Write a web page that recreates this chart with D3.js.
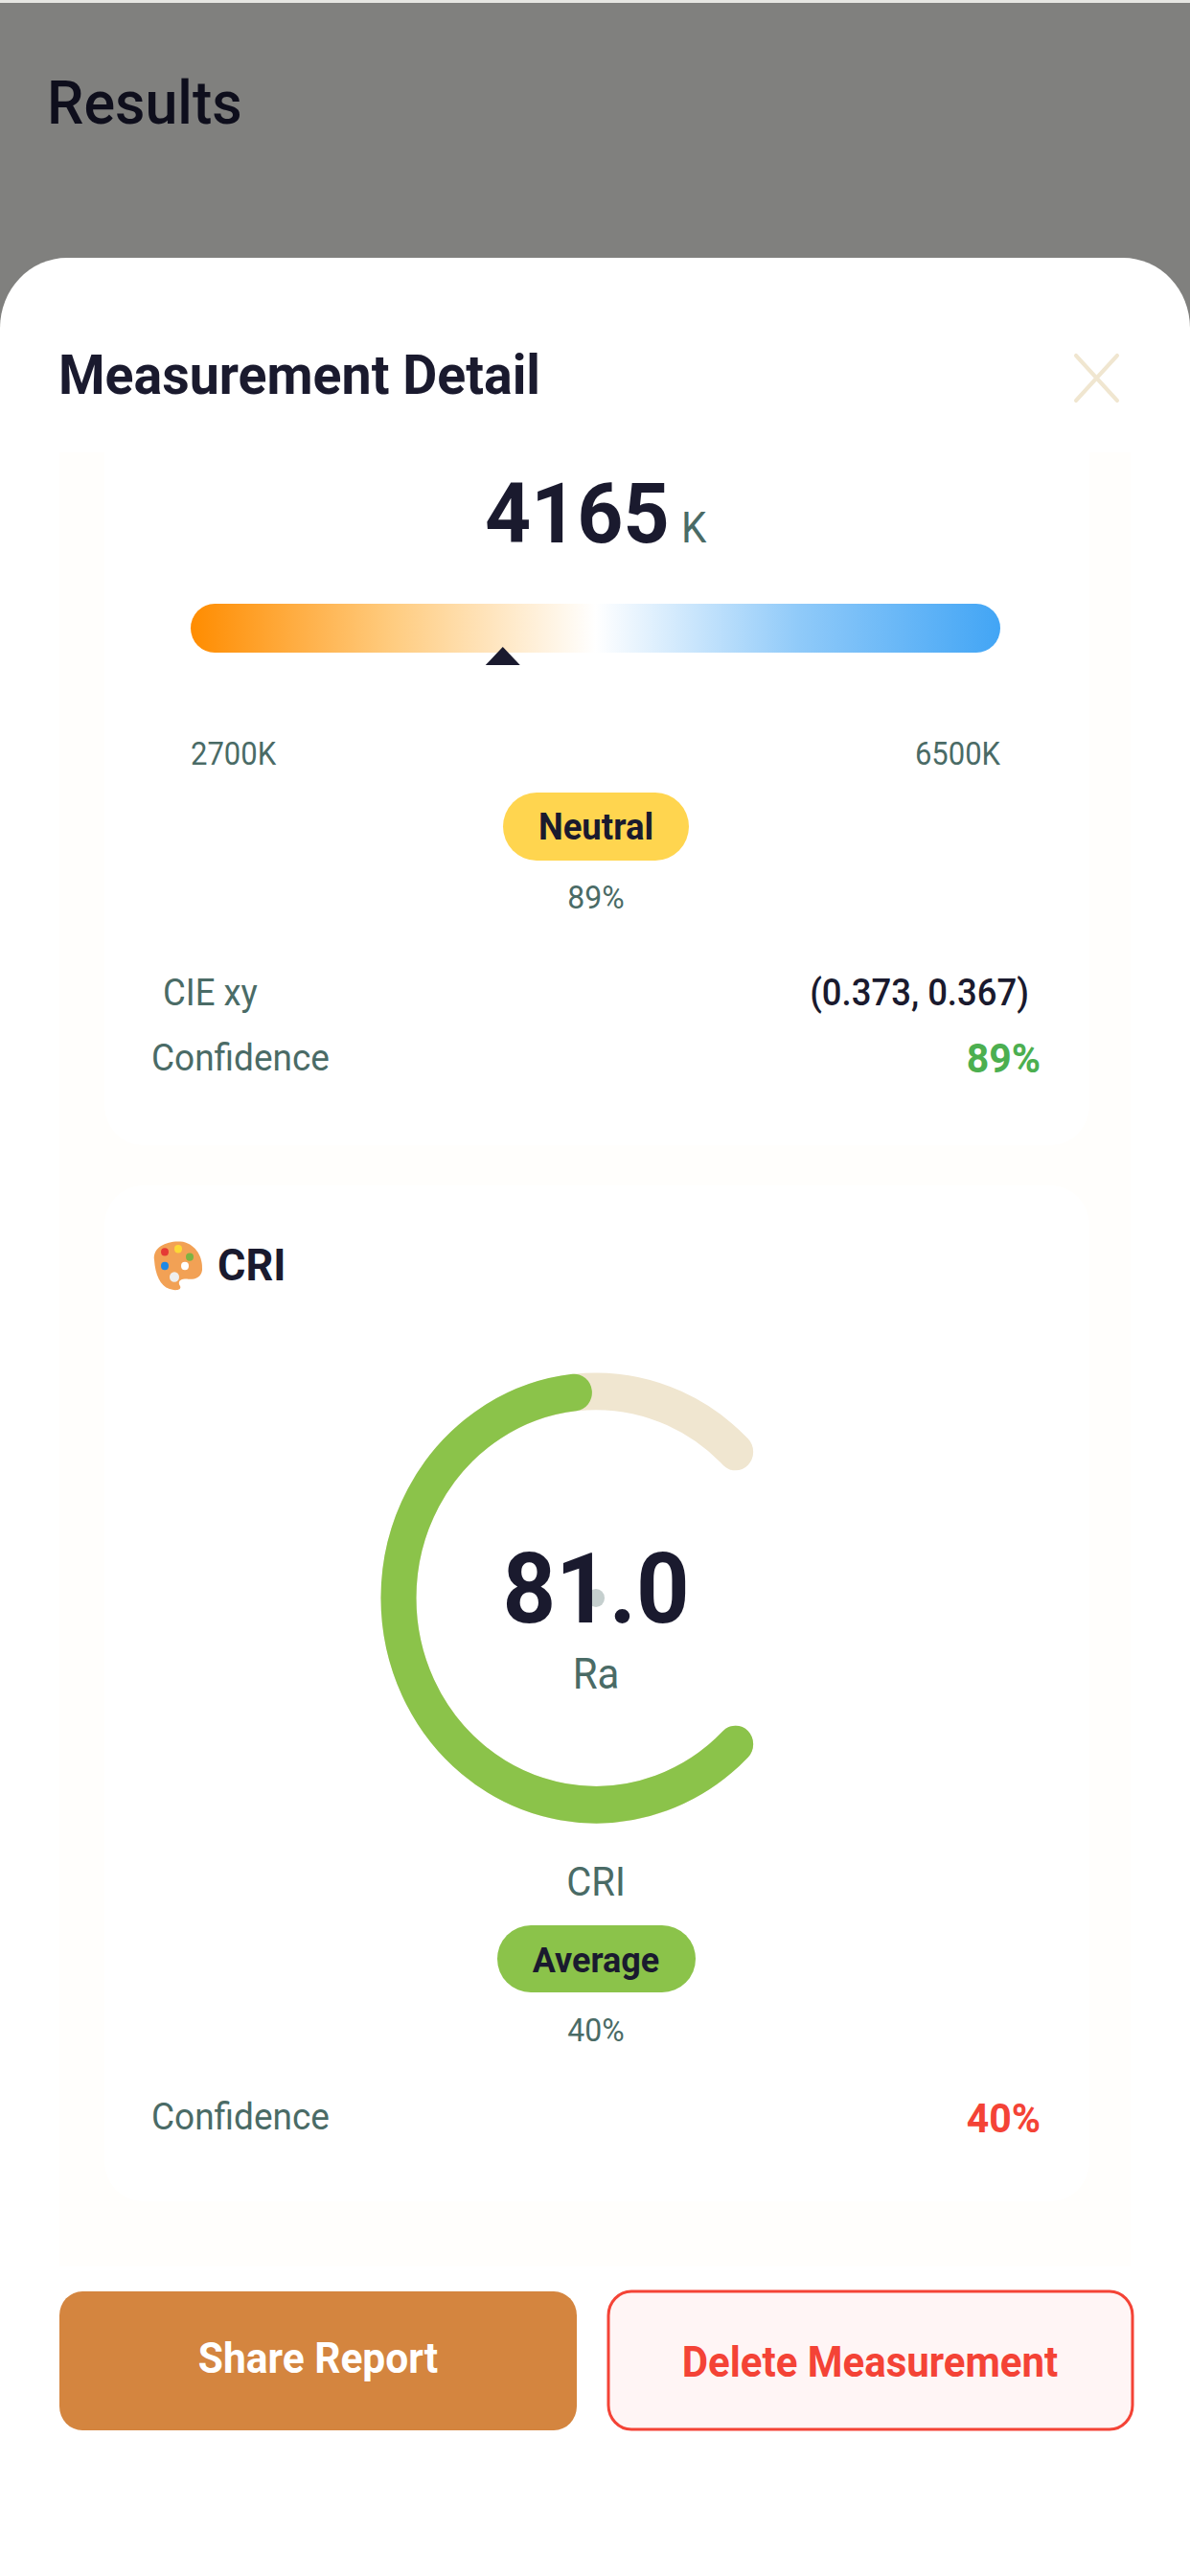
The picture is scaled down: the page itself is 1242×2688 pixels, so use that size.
<!DOCTYPE html>
<html>
<head>
<meta charset="utf-8">
<script src="https://cdn.jsdelivr.net/npm/d3@7"></script>
<style>
  html, body { margin: 0; padding: 0; background: #fff; }
  svg { display: block; }
  text { font-family: Roboto, sans-serif; }
</style>
</head>
<body>
<script>
var CCT_VALUE = 4165;
var CCT_RANGE = [2700, 6500];
var CCT_UNIT = 'K';
var CCT_LABEL = 'Neutral';
var CCT_CONFIDENCE = 89;
var CIE_XY = [0.373, 0.367];
var CRI_VALUE = 81.0;
var CRI_RANGE = [0, 100];
var CRI_LABEL = 'Average';
var CRI_CONFIDENCE = 40;
var GRADIENT_STOPS = ['#ff8c00', '#ffcc80', '#ffffff', '#90caf9', '#42a5f5'];

var W = 1242, H = 2688;
// the source screenshot is stretched a little vertically
var SY = 1.047;
var DARK = '#1a1a2e', MUTED = '#4a6b66', CREAM = '#f0e6d0', GREEN = '#8bc34a', RED = '#f44336';

var y = d3.scaleLinear().domain([0, H]).range([0, H / SY]);

var svg = d3.select('body').append('svg')
    .attr('width', W)
    .attr('height', H);

// backdrop, outside the stretch
svg.append('rect').attr('width', W).attr('height', H).attr('fill', '#80807e');
svg.append('rect').attr('width', W).attr('height', 3).attr('fill', '#e6e6e2');

var root = svg.append('g').attr('transform', 'scale(1,' + SY + ')');

function label(str, x, yy, size, opts) {
  opts = opts || {};
  return root.append('text')
      .attr('x', x)
      .attr('y', y(yy))
      .attr('font-size', size)
      .attr('font-weight', opts.weight || 400)
      .attr('fill', opts.fill || MUTED)
      .attr('text-anchor', opts.anchor || 'start')
      .text(str);
}

function box(x0, x1, y0, y1, r, fill) {
  return root.append('rect')
      .attr('x', x0)
      .attr('y', y(y0))
      .attr('width', x1 - x0)
      .attr('height', y(y1) - y(y0))
      .attr('rx', r)
      .attr('fill', fill);
}

label('Results', 49, 129, 61, { weight: 500, fill: '#0e0e1c' });

// sheet and cards
box(0, W, 269, H + 200, 70, '#ffffff');
box(62, 1180, 472, 2365, 0, '#fffefc');
box(109, 1137, 420, 1195, 40, '#ffffff');
box(109, 1137, 1237, 2297, 40, '#ffffff');

label('Measurement Detail', 61, 411, 55.5, { weight: 700, fill: DARK });

// close icon
[[1123, 371, 1166, 418], [1166, 371, 1123, 418]].forEach(function(l) {
  root.append('line')
      .attr('x1', l[0]).attr('y1', y(l[1]))
      .attr('x2', l[2]).attr('y2', y(l[3]))
      .attr('stroke', CREAM)
      .attr('stroke-width', 4)
      .attr('stroke-linecap', 'round');
});

// colour temperature
label(CCT_VALUE, 506, 566, 84, { weight: 700, fill: DARK });
label(CCT_UNIT, 711, 566, 42);

var cctX = d3.scaleLinear().domain(CCT_RANGE).range([199, 1044]);

var grad = svg.append('defs').append('linearGradient')
    .attr('id', 'cct-grad');
grad.selectAll('stop')
    .data(GRADIENT_STOPS)
    .enter()
    .append('stop')
    .attr('offset', function(d, i) { return i / (GRADIENT_STOPS.length - 1); })
    .attr('stop-color', function(d) { return d; });

box(cctX(CCT_RANGE[0]), cctX(CCT_RANGE[1]), 630, 681, 25, 'url(#cct-grad)');

root.append('path')
    .attr('d', d3.line()([
      [cctX(CCT_VALUE) - 18, y(694)],
      [cctX(CCT_VALUE), y(675)],
      [cctX(CCT_VALUE) + 18, y(694)]
    ]) + 'Z')
    .attr('fill', DARK);

label(CCT_RANGE[0] + 'K', cctX(CCT_RANGE[0]), 798, 31);
label(CCT_RANGE[1] + 'K', cctX(CCT_RANGE[1]), 798, 31, { anchor: 'end' });

box(525, 719, 827, 898, 35, '#ffd54f');
label(CCT_LABEL, 622, 876, 36.5, { weight: 700, fill: DARK, anchor: 'middle' });
label(CCT_CONFIDENCE + '%', 622, 948, 32, { anchor: 'middle' });

label('CIE xy', 170, 1049, 36.5);
label('(' + CIE_XY.map(d3.format('.3f')).join(', ') + ')', 1074, 1049, 36.5, { weight: 500, fill: DARK, anchor: 'end' });
label('Confidence', 158, 1117, 37);
label(CCT_CONFIDENCE + '%', 1086, 1119, 41, { weight: 700, fill: '#4caf50', anchor: 'end' });

// CRI header, palette icon
var icon = root.append('g').attr('transform', 'translate(185,' + y(1321) + ')');
icon.append('path')
    .attr('d', 'M-24,-6C-26,-20 -8,-26 6,-24C20,-21 27,-8 26,4C25,12 17,14 10,13C3,12 0,16 3,20C5,24 -2,25 -8,23C-18,20 -23,8 -24,-6Z')
    .attr('fill', '#f2a155');
var ICON_DOTS = [[-13, -14, '#e53935'], [1, -17, '#fdd835'], [13, -9, '#7cb342'], [-13, 0, '#1e88e5'], [8, 0, '#fff'], [-3, 11, '#eeeeee']];
icon.selectAll('circle')
    .data(ICON_DOTS)
    .enter()
    .append('circle')
    .attr('cx', function(d) { return d[0]; })
    .attr('cy', function(d) { return d[1]; })
    .attr('r', function(d, i) { return i === 5 ? 5 : 4; })
    .attr('fill', function(d) { return d[2]; });
label('CRI', 227, 1336, 45, { weight: 700, fill: DARK });

// gauge
var CX = 622, CY = 1667.5, R = 206;
var criAngle = d3.scaleLinear()
    .domain(CRI_RANGE)
    .range([0.75 * Math.PI, 2.25 * Math.PI]);
var arc = d3.arc().innerRadius(R).outerRadius(R);

var gauge = root.append('g').attr('transform', 'translate(' + CX + ',' + y(CY) + ')');
gauge.selectAll('path')
    .data([[CRI_RANGE[1], CREAM], [CRI_VALUE, GREEN]])
    .enter()
    .append('path')
    .attr('d', function(d) {
      return arc({ startAngle: criAngle(CRI_RANGE[0]), endAngle: criAngle(d[0]) });
    })
    .attr('fill', 'none')
    .attr('stroke', function(d) { return d[1]; })
    .attr('stroke-width', 37)
    .attr('stroke-linecap', 'round')
    .attr('stroke-linejoin', 'round');
gauge.append('circle').attr('r', 9).attr('fill', '#c5cfce');

label(d3.format('.1f')(CRI_VALUE), 622, 1693, 97, { weight: 700, fill: DARK, anchor: 'middle' });
label('Ra', 622, 1762, 42, { anchor: 'middle' });
label('CRI', 622, 1978, 40, { anchor: 'middle' });

box(519, 726, 2009, 2079, 35, GREEN);
label(CRI_LABEL, 622, 2058, 36, { weight: 700, fill: DARK, anchor: 'middle' });
label(CRI_CONFIDENCE + '%', 622, 2130, 32, { anchor: 'middle' });
label('Confidence', 158, 2222, 37);
label(CRI_CONFIDENCE + '%', 1086, 2225, 41, { weight: 700, fill: RED, anchor: 'end' });

// buttons
box(62, 602, 2391, 2536, 24, '#d4853f');
label('Share Report', 332, 2476, 42.5, { weight: 700, fill: '#ffffff', anchor: 'middle' });
box(635, 1182, 2391, 2535, 24, '#fff5f5').attr('stroke', RED).attr('stroke-width', 3);
label('Delete Measurement', 908, 2480, 42, { weight: 700, fill: RED, anchor: 'middle' });
</script>
</body>
</html>
